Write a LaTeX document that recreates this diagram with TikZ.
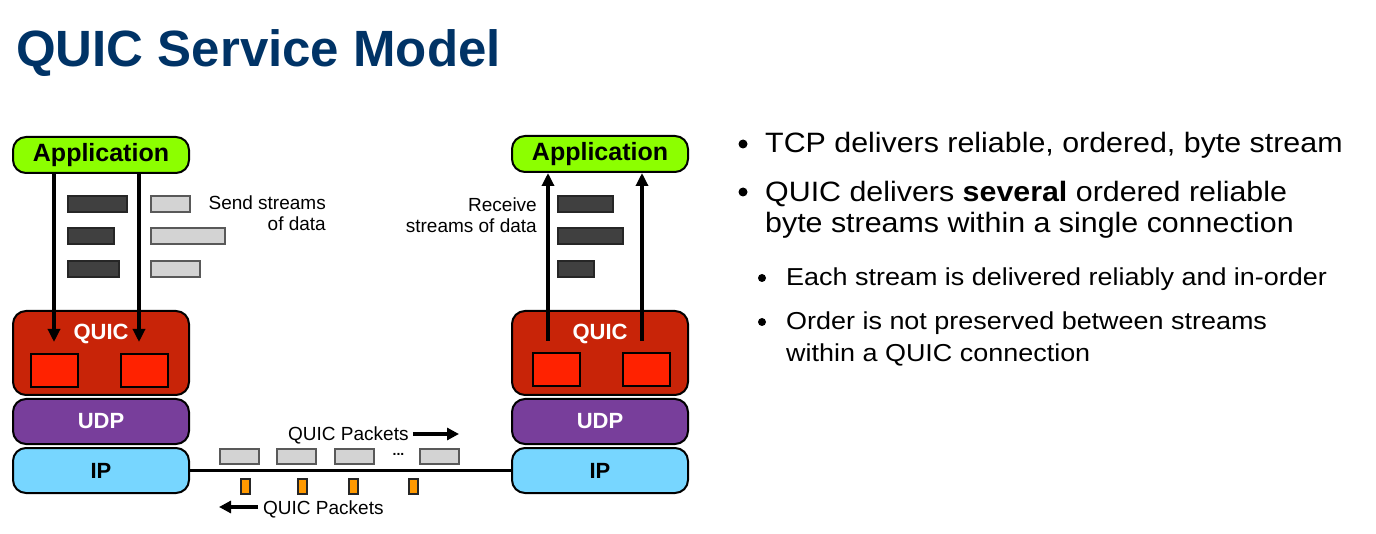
\documentclass[tikz,border=0pt]{standalone}
\usepackage{fontspec}
\setmainfont{Liberation Sans}
\usetikzlibrary{arrows.meta}

\definecolor{titleblue}{RGB}{0,51,102}
\definecolor{appgreen}{RGB}{140,255,0}
\definecolor{quicred}{RGB}{200,36,8}
\definecolor{streamred}{RGB}{255,34,0}
\definecolor{udppurple}{RGB}{120,62,155}
\definecolor{ipblue}{RGB}{119,214,255}
\definecolor{darkbar}{RGB}{64,64,64}
\definecolor{lightbar}{RGB}{211,211,211}
\definecolor{ackorange}{RGB}{255,153,0}

\newcommand{\fsz}[1]{\fontsize{#1}{#1}\selectfont}

\tikzset{
  layer/.style={draw=black, line width=2pt, rounded corners=13pt,
    minimum width=176pt, inner sep=0pt},
  layertext/.style={inner sep=0pt, font=\fsz{22}\bfseries},
  streambox/.style={draw=black, line width=1.8pt, fill=streamred,
    minimum width=47pt, minimum height=33pt, inner sep=0pt, anchor=north west},
  darkseg/.style={draw=black!85, line width=1.8pt, fill=darkbar,
    minimum height=16pt, inner sep=0pt, anchor=north west},
  lightseg/.style={draw=black!65, line width=1.8pt, fill=lightbar,
    minimum height=16pt, inner sep=0pt, anchor=north west},
  packet/.style={draw=black!65, line width=1.8pt, fill=lightbar,
    minimum width=39pt, minimum height=15pt, inner sep=0pt, anchor=north west},
  ack/.style={draw=black!85, line width=1.6pt, fill=ackorange,
    minimum width=9pt, minimum height=15pt, inner sep=0pt, anchor=north west},
  flow/.style={line width=3.2pt, -{Triangle[length=13pt,width=12pt]}},
  dirarrow/.style={line width=3.4pt, -{Triangle[length=12pt,width=12pt]}},
  lbl/.style={inner sep=0pt, font=\fsz{19}},
  btext/.style={inner sep=0pt, font=\fsz{28}, anchor=base west},
  stext/.style={inner sep=0pt, font=\fsz{24.5}, anchor=base west},
}

\begin{document}
\begin{tikzpicture}[x=1pt, y=-1pt]
\useasboundingbox (0,0) rectangle (1376,534);

% title
\node[anchor=base west, inner sep=0pt, font=\fsz{51}\bfseries, text=titleblue]
  (title) at (16,67) {QUIC Service Model};

% sender stack
\node[layer, fill=appgreen, minimum height=36pt] (appL) at (101,155) {};
\node[layertext, font=\fsz{25}\bfseries] (appLt) at (101,155.5) {Application};
\node[layer, fill=quicred, minimum height=84pt] (quicL) at (101,353) {};
\node[layertext, text=white] (quicLt) at (101,334) {QUIC};
\node[streambox] (qL1) at (30,353) {};
\node[streambox] (qL2) at (120,353) {};
\node[layer, fill=udppurple, minimum height=45pt] (udpL) at (101,421.5) {};
\node[layertext, text=white] (udpLt) at (101,421.5) {UDP};
\node[layer, fill=ipblue, minimum height=45pt] (ipL) at (101,470.5) {};
\node[layertext] (ipLt) at (101,470.5) {IP};

% receiver stack
\node[layer, fill=appgreen, minimum height=36pt] (appR) at (600,154) {};
\node[layertext, font=\fsz{25}\bfseries] (appRt) at (600,154.5) {Application};
\node[layer, fill=quicred, minimum height=84pt] (quicR) at (600,353) {};
\node[layertext, text=white] (quicRt) at (600,334) {QUIC};
\node[streambox] (qR1) at (532,352) {};
\node[streambox] (qR2) at (622,352) {};
\node[layer, fill=udppurple, minimum height=45pt] (udpR) at (600,421.5) {};
\node[layertext, text=white] (udpRt) at (600,421.5) {UDP};
\node[layer, fill=ipblue, minimum height=45pt] (ipR) at (600,470.5) {};
\node[layertext] (ipRt) at (600,470.5) {IP};

% streams handed down on the sending side
\coordinate (inL1) at (54,342);
\coordinate (inL2) at (139,342);
\draw[flow] (appL.south -| inL1) -- (inL1);
\draw[flow] (appL.south -| inL2) -- (inL2);
\node[darkseg, minimum width=59pt] (dL1) at (67,195) {};
\node[darkseg, minimum width=46pt] (dL2) at (67,227) {};
\node[darkseg, minimum width=51pt] (dL3) at (67,260) {};
\node[lightseg, minimum width=39pt] (lL1) at (150,195) {};
\node[lightseg, minimum width=74pt] (lL2) at (150,227) {};
\node[lightseg, minimum width=49pt] (lL3) at (150,260) {};
\node[lbl, align=right, anchor=base east, font=\fontsize{19}{21}\selectfont]
  (sendlbl) at (326,231) {Send streams\\of data};

% streams handed up on the receiving side
\coordinate (outR1) at (548,341);
\coordinate (outR2) at (642,341);
\draw[flow] (outR1) -- (appR.south -| outR1);
\draw[flow] (outR2) -- (appR.south -| outR2);
\node[darkseg, minimum width=55pt] (dR1) at (557,195) {};
\node[darkseg, minimum width=65pt] (dR2) at (557,227) {};
\node[darkseg, minimum width=36pt] (dR3) at (557,260) {};
\node[lbl, align=right, anchor=base east, font=\fontsize{19}{21}\selectfont]
  (recvlbl) at (537,233) {Receive\\streams of data};

% network path
\draw[line width=3.2pt] (ipL.east) -- (ipR.west);
\node[packet] (p1) at (219,448) {};
\node[packet] (p2) at (276,448) {};
\node[packet] (p3) at (334,448) {};
\node[inner sep=0pt, font=\fsz{14}\bfseries, anchor=base] (pdots) at (398.5,455.5) {...};
\node[packet] (p4) at (419,448) {};
\node[ack] (a1) at (240,478) {};
\node[ack] (a2) at (297,478) {};
\node[ack] (a3) at (348,478) {};
\node[ack] (a4) at (408,478) {};

\node[lbl, anchor=base west] (fwdlbl) at (288,440) {QUIC Packets};
\coordinate (fwdtip) at (459,434);
\draw[dirarrow] (fwdlbl.east |- fwdtip) ++(4,0) -- (fwdtip);
\node[lbl, anchor=base west] (revlbl) at (263,514) {QUIC Packets};
\coordinate (revtip) at (219,507);
\draw[dirarrow] (revlbl.west |- revtip) ++(-5,0) -- (revtip);

% bullet list
\fill (743,144) circle (4.5pt);
\node[btext] (b1) at (765,153) {\scalebox{1.085}[1]{TCP delivers reliable, ordered, byte stream}};
\fill (743,192) circle (4.5pt);
\node[btext] (b2a) at (765,202) {\scalebox{1.085}[1]{QUIC delivers \textbf{several} ordered reliable}};
\node[btext] (b2b) at (765,233) {\scalebox{1.085}[1]{byte streams within a single connection}};
\fill (762,278) circle (4pt);
\node[stext] (s1) at (786,286) {\scalebox{1.1}[1]{Each stream is delivered reliably and in-order}};
\fill (762,322) circle (4pt);
\node[stext] (s2a) at (786,330) {\scalebox{1.1}[1]{Order is not preserved between streams}};
\node[stext] (s2b) at (786,362) {\scalebox{1.1}[1]{within a QUIC connection}};
\end{tikzpicture}
\end{document}
